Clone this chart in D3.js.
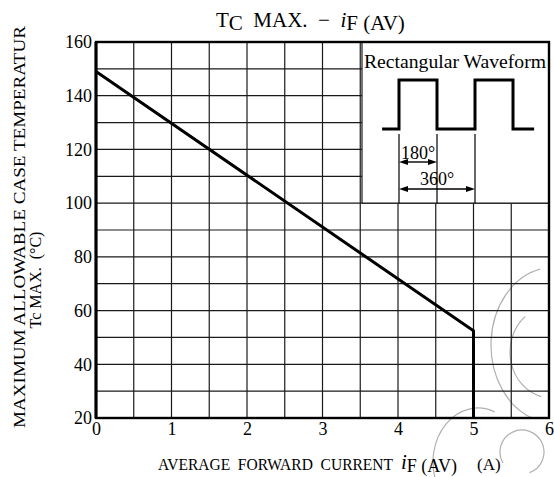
<!DOCTYPE html>
<html>
<head>
<meta charset="utf-8">
<script src="https://cdn.jsdelivr.net/npm/d3@7"></script>
<style>
body { margin: 0; background: #fff; }
svg { display: block; font-family: "Liberation Serif", "Times New Roman", serif; }
text { white-space: pre; }
</style>
</head>
<body>
<svg id="graph" width="554" height="477"></svg>
<script>
// data
var xTicks = [0, 1, 2, 3, 4, 5, 6];
var yTicks = [20, 40, 60, 80, 100, 120, 140, 160];
var xGrid = [0.5, 1, 1.5, 2, 2.5, 3, 3.5, 4, 4.5, 5, 5.5];
var yGrid = [30, 40, 50, 60, 70, 80, 90, 100, 110, 120, 130, 140, 150];
var currentA = [0, 5, 5];
var caseTempC = [149, 52.5, 20];
// inset waveform, phase in degrees / level 0-1
var wavePhase = [-80, 0, 0, 180, 180, 360, 360, 540, 540, 640];
var waveLevel = [0, 0, 1, 1, 0, 0, 1, 1, 0, 0];

var svg = d3.select("#graph");
var width = 554, height = 477;

var x = d3.scaleLinear().domain([0, 6]).range([96, 549]);
var y = d3.scaleLinear().domain([20, 160]).range([418, 42]);

// faint watermark behind everything
var deg = Math.PI / 180;
var marks = [
    {cx: 553, cy: 345, r: 62, sy: 1.25, a0: -162, a1: -12},
    {cx: 552, cy: 352, r: 42, sy: 1.1, a0: -165, a1: -40},
    {cx: 478, cy: 462, r: 45, sy: 1.2, a0: -112, a1: 22},
    {cx: 522, cy: 452, r: 22, sy: 1, a0: -120, a1: 160}
];
svg.append("g")
    .selectAll("path")
    .data(marks)
    .enter()
    .append("path")
    .attr("transform", function(d) {return "translate(" + d.cx + "," + d.cy + ") scale(1," + d.sy + ")";})
    .attr("d", function(d) {
        return d3.arc()({innerRadius: d.r, outerRadius: d.r, startAngle: d.a0 * deg, endAngle: d.a1 * deg});
    })
    .attr("fill", "none")
    .attr("stroke", "#b0b0b0")
    .attr("stroke-width", 1.2)
    .attr("vector-effect", "non-scaling-stroke");

// grid
svg.append("g")
    .selectAll("line")
    .data(xGrid)
    .enter()
    .append("line")
    .attr("x1", function(d) {return x(d);})
    .attr("x2", function(d) {return x(d);})
    .attr("y1", y(20))
    .attr("y2", y(160))
    .attr("stroke", "#1a1a1a")
    .attr("stroke-width", 1.2);

svg.append("g")
    .selectAll("line")
    .data(yGrid)
    .enter()
    .append("line")
    .attr("x1", x(0))
    .attr("x2", x(6))
    .attr("y1", function(d) {return y(d);})
    .attr("y2", function(d) {return y(d);})
    .attr("stroke", "#1a1a1a")
    .attr("stroke-width", 1.2);

// curve
var line = d3.line()
    .x(function(d) {return x(d[0]);})
    .y(function(d) {return y(d[1]);});

svg.append("path")
    .datum(d3.zip(currentA, caseTempC))
    .attr("d", line)
    .attr("fill", "none")
    .attr("stroke", "#000")
    .attr("stroke-width", 3)
    .attr("stroke-linejoin", "miter");

// inset box
var boxLeft = 362;
svg.append("rect")
    .attr("x", boxLeft)
    .attr("y", y(160))
    .attr("width", x(6) - boxLeft)
    .attr("height", y(100) - y(160))
    .attr("fill", "#fff");
svg.append("line")
    .attr("x1", boxLeft).attr("x2", boxLeft)
    .attr("y1", y(160)).attr("y2", y(100))
    .attr("stroke", "#1a1a1a").attr("stroke-width", 1.2);
svg.append("line")
    .attr("x1", boxLeft).attr("x2", x(6))
    .attr("y1", y(100)).attr("y2", y(100))
    .attr("stroke", "#1a1a1a").attr("stroke-width", 1.2);

svg.append("text")
    .attr("x", 364)
    .attr("y", 68)
    .style("font-size", "18px")
    .attr("textLength", 182)
    .attr("lengthAdjust", "spacingAndGlyphs")
    .text("Rectangular Waveform");

var wx = d3.scaleLinear().domain([0, 360]).range([399, 475]);
var wy = d3.scaleLinear().domain([0, 1]).range([129, 80]);

svg.append("path")
    .datum(d3.zip(wavePhase, waveLevel))
    .attr("d", d3.line().x(function(d) {return wx(d[0]);}).y(function(d) {return wy(d[1]);}))
    .attr("fill", "none")
    .attr("stroke", "#000")
    .attr("stroke-width", 3);

// dimension lines
[0, 180, 360].forEach(function(p) {
    svg.append("line")
        .attr("x1", wx(p)).attr("x2", wx(p))
        .attr("y1", 134).attr("y2", y(100))
        .attr("stroke", "#000").attr("stroke-width", 1.2);
});

function dimArrow(p0, p1, yy, label, tx, ty) {
    svg.append("line")
        .attr("x1", wx(p0) + 4).attr("x2", wx(p1) - 4)
        .attr("y1", yy).attr("y2", yy)
        .attr("stroke", "#000").attr("stroke-width", 1.4);
    var a = wx(p0), b = wx(p1);
    svg.append("path")
        .attr("d", "M" + a + "," + yy + "L" + (a + 9) + "," + (yy - 3) + "L" + (a + 9) + "," + (yy + 3) + "Z")
        .attr("fill", "#000");
    svg.append("path")
        .attr("d", "M" + b + "," + yy + "L" + (b - 9) + "," + (yy - 3) + "L" + (b - 9) + "," + (yy + 3) + "Z")
        .attr("fill", "#000");
    svg.append("text")
        .attr("x", tx).attr("y", ty)
        .attr("text-anchor", "middle")
        .style("font-size", "18px")
        .text(label);
}
dimArrow(0, 180, 162, "180°", 418, 159);
dimArrow(0, 360, 189, "360°", 437, 185);

// frame
svg.append("rect")
    .attr("x", x(0))
    .attr("y", y(160))
    .attr("width", x(6) - x(0))
    .attr("height", y(20) - y(160))
    .attr("fill", "none")
    .attr("stroke", "#000")
    .attr("stroke-width", 2.4);
svg.append("line")
    .attr("x1", x(0)).attr("x2", x(0))
    .attr("y1", y(160)).attr("y2", y(20))
    .attr("stroke", "#000").attr("stroke-width", 3);

// axes
var xAxis = svg.append("g")
    .attr("transform", "translate(0," + y(20) + ")")
    .call(d3.axisBottom(x).tickValues(xTicks).tickSize(0).tickPadding(4).tickFormat(d3.format("d")));
var yAxis = svg.append("g")
    .attr("transform", "translate(" + x(0) + ",0)")
    .call(d3.axisLeft(y).tickValues(yTicks).tickSize(0).tickPadding(4).tickFormat(d3.format("d")));
[xAxis, yAxis].forEach(function(g) {
    g.select(".domain").remove();
    g.selectAll("text")
        .attr("fill", "#000")
        .style("font-family", "Liberation Serif, serif")
        .style("font-size", "18px");
});

// title
var title = svg.append("text")
    .attr("x", 216)
    .attr("y", 27)
    .style("font-size", "21px");
title.append("tspan").text("T");
title.append("tspan").attr("dy", 3).text("C");
title.append("tspan").attr("dy", -3).text("  MAX.  \u2212  ");
title.append("tspan").style("font-style", "italic").text("i");
title.append("tspan").attr("dy", 3).text("F (AV)");

// x title
svg.append("text")
    .attr("x", 158)
    .attr("y", 470)
    .style("font-size", "16px")
    .attr("textLength", 235)
    .attr("lengthAdjust", "spacingAndGlyphs")
    .text("AVERAGE  FORWARD  CURRENT");
var xt = svg.append("text")
    .attr("x", 401)
    .attr("y", 469)
    .style("font-size", "21px");
xt.append("tspan").style("font-style", "italic").text("i");
xt.append("tspan").attr("dy", 3).style("font-size", "18px").text("F (AV)");
svg.append("text")
    .attr("x", 477)
    .attr("y", 470)
    .style("font-size", "17px")
    .text("(A)");

// y title
svg.append("text")
    .attr("transform", "translate(25,428) rotate(-90)")
    .style("font-size", "16px")
    .attr("textLength", 402)
    .attr("lengthAdjust", "spacingAndGlyphs")
    .text("MAXIMUM ALLOWABLE CASE TEMPERATUR");
svg.append("text")
    .attr("transform", "translate(41,280) rotate(-90)")
    .attr("text-anchor", "middle")
    .style("font-size", "16px")
    .text("Tc MAX.  (°C)");
</script>
</body>
</html>
